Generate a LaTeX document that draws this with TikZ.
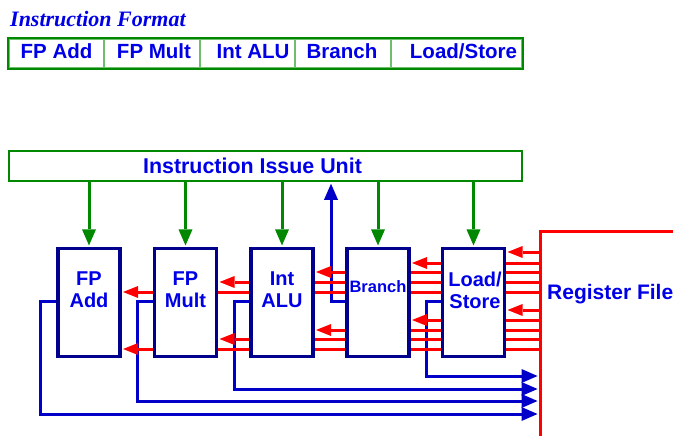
\documentclass[tikz,border=0pt]{standalone}
\usepackage{fontspec}
\setmainfont{Liberation Sans}
\newfontfamily\titlefont{Liberation Serif}
\usetikzlibrary{arrows.meta}
\pgfdeclarelayer{bluelayer}
\pgfdeclarelayer{redlayer}
\pgfsetlayers{bluelayer,redlayer,main}
\definecolor{txtblue}{RGB}{0,0,230}
\definecolor{boxnavy}{RGB}{0,0,140}
\definecolor{wireblue}{RGB}{0,0,200}
\definecolor{grn}{RGB}{0,136,0}
\definecolor{ltgrn}{RGB}{110,190,110}
\definecolor{rfred}{RGB}{255,0,0}
\begin{document}
\begin{tikzpicture}[x=1pt,y=-1pt,
  unit/.style={draw=boxnavy, line width=3.2pt, fill=white, minimum width=62pt, minimum height=108pt, inner sep=0pt},
  unitlbl/.style={text=txtblue, font=\bfseries\fontsize{20}{22}\selectfont, align=center, inner sep=0pt},
  cell/.style={draw=ltgrn, line width=1.5pt, minimum height=29pt, inner sep=0pt},
  celllbl/.style={text=txtblue, font=\bfseries\fontsize{20.5}{22}\selectfont, inner sep=0pt, anchor=base},
  issuearrow/.style={draw=grn, line width=3pt, shorten >=1.5pt, -{Triangle[length=16pt,width=14pt,line width=0pt]}},
  opnd/.style={draw=rfred, line width=3pt, shorten >=1.5pt, -{Triangle[length=15pt,width=12pt,line width=0pt]}},
  result/.style={draw=wireblue, line width=3pt, shorten >=1.5pt, -{Triangle[length=16pt,width=14pt,line width=0pt]}},
]
\useasboundingbox (0,0) rectangle (673,436);

% title and instruction format
\node[anchor=base west, text=txtblue, font=\titlefont\bfseries\itshape\fontsize{22}{24}\selectfont, inner sep=0pt] (title) at (10,27) {Instruction Format};
\node[cell, minimum width=95pt] (cellA) at (56.5,53.5) {};
\node[cell, minimum width=96pt] (cellB) at (152,53.5) {};
\node[cell, minimum width=95pt] (cellC) at (247.5,53.5) {};
\node[cell, minimum width=96pt] (cellD) at (343,53.5) {};
\node[cell, minimum width=131pt] (cellE) at (456.5,53.5) {};
\draw[grn, line width=2pt] (cellA.north west) rectangle (cellE.south east);
\node[celllbl] (cellAlbl) at (56.5,59) {FP Add};
\node[celllbl] (cellBlbl) at (154,59) {FP Mult};
\node[celllbl] (cellClbl) at (253,59) {Int ALU};
\node[celllbl] (cellDlbl) at (342,59) {Branch};
\node[celllbl] (cellElbl) at (463.5,59) {Load/Store};

% issue unit
\node[draw=grn, line width=2.5pt, minimum width=513pt, minimum height=30pt, inner sep=0pt] (issue) at (265.5,166) {};
\node[anchor=base, text=txtblue, font=\bfseries\fontsize{21.4}{24}\selectfont, inner sep=0pt] (issuelbl) at (252.5,173) {Instruction Issue Unit};

% functional units
\node[unit] (fpadd) at (89,302.5) {};
\node[unit] (fpmult) at (185.5,302.5) {};
\node[unit] (intalu) at (282,302.5) {};
\node[unit] (branch) at (378,302.5) {};
\node[unit] (ldst) at (473.5,302.5) {};
\node[unitlbl] (fpaddlbl) at (89,290) {FP\\Add};
\node[unitlbl] (fpmultlbl) at (185.5,290) {FP\\Mult};
\node[unitlbl] (intalulbl) at (282,290) {Int\\ALU};
\node[unitlbl, font=\bfseries\fontsize{16.5}{18}\selectfont] (branchlbl) at (378,287) {Branch};
\node[unitlbl] (ldstlbl) at (475,290) {Load/\\Store};

% register file
\node[draw=rfred, line width=3pt, minimum width=200pt, minimum height=260pt, anchor=north west, inner sep=0pt] (regfile) at (539,230) {};
\node[anchor=base west, text=txtblue, font=\bfseries\fontsize{21}{24}\selectfont, inner sep=0pt] (rflbl) at (547,299) {Register File};

% issue arrows
\foreach \b in {fpadd,fpmult,intalu,branch,ldst}
  \draw[issuearrow] (issue.south -| \b.north) -- (\b.north);

% operand buses
\begin{pgfonlayer}{redlayer}
\draw[opnd] (regfile.west |- 0,252) -- (ldst.east |- 0,252);
\draw[opnd] (regfile.west |- 0,263) -- (branch.east |- 0,263);
\draw[opnd] (regfile.west |- 0,272) -- (intalu.east |- 0,272);
\draw[opnd] (regfile.west |- 0,282) -- (fpmult.east |- 0,282);
\draw[opnd] (regfile.west |- 0,292) -- (fpadd.east |- 0,292);
\draw[opnd] (regfile.west |- 0,310) -- (ldst.east |- 0,310);
\draw[opnd] (regfile.west |- 0,320) -- (branch.east |- 0,320);
\draw[opnd] (regfile.west |- 0,330) -- (intalu.east |- 0,330);
\draw[opnd] (regfile.west |- 0,339) -- (fpmult.east |- 0,339);
\draw[opnd] (regfile.west |- 0,349) -- (fpadd.east |- 0,349);
\end{pgfonlayer}

% result buses
\begin{pgfonlayer}{bluelayer}
\draw[result] (fpadd.west |- 0,301) -| (40,414) -- (regfile.west |- 0,414);
\draw[result] (fpmult.west |- 0,301) -| (137,401) -- (regfile.west |- 0,401);
\draw[result] (intalu.west |- 0,301) -| (234,389) -- (regfile.west |- 0,389);
\draw[result] (ldst.west |- 0,301) -| (426,376) -- (regfile.west |- 0,376);
\draw[result] (branch.west |- 0,301) -| (issue.south -| 331,0);
\end{pgfonlayer}
\end{tikzpicture}
\end{document}
